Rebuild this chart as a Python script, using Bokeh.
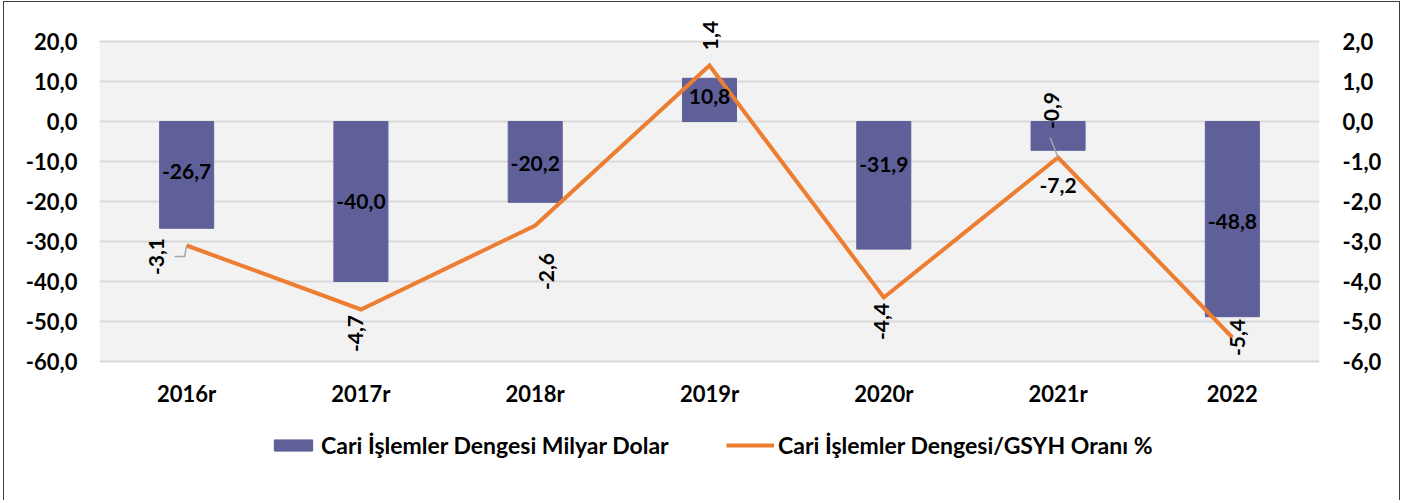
import math
from bokeh.plotting import figure
from bokeh.models import (Range1d, LinearAxis, FixedTicker, CustomJSTickFormatter,
                          Legend, LegendItem, ColumnDataSource, LabelSet)
from bokeh.core.properties import value
from bokeh.embed import file_html
from bokeh.resources import INLINE

# ---------------- data ----------------
categories = ["2016r", "2017r", "2018r", "2019r", "2020r", "2021r", "2022"]
balance_bn_usd = [-26.7, -40.0, -20.2, 10.8, -31.9, -7.2, -48.8]
balance_gdp_pct = [-3.1, -4.7, -2.6, 1.4, -4.4, -0.9, -5.4]
left_ticks = [-60, -50, -40, -30, -20, -10, 0, 10, 20]
right_ticks = [-6, -5, -4, -3, -2, -1, 0, 1, 2]
bar_series_name = "Cari İşlemler Dengesi Milyar Dolar"
line_series_name = "Cari İşlemler Dengesi/GSYH Oranı %"

# ---------------- style ----------------
FONT = "Lato"
BAR_COLOR = "#5F5F99"
LINE_COLOR = "#ED7D31"
GRID_COLOR = "#D9D9D9"
BG = "#F2F2F2"

# label offsets in pixels (dx right, dy up) - label placement only
bar_lbl_dy = [3, 0, -2, 3, 21, -50, -2]
line_lbl_dx = [-30, -5, 11, 1, -2, -7, 5]
line_lbl_dy = [-11, -24, -46, 30, -24, 47, 0]

# ---------------- layout (page pixels) ----------------
CANVAS_X0, CANVAS_Y0 = 5, 3          # canvas origin on the page
W, H = 1397, 499
PLOT_L, PLOT_R = 100, 1320           # plot-area edges on the page
PLOT_T, PLOT_B = 42, 362             # page y of top tick / bottom tick
ML = PLOT_L - CANVAS_X0
FW = PLOT_R - PLOT_L
MR = W - ML - FW

ymin, ymax = left_ticks[0], left_ticks[-1]
rmin, rmax = right_ticks[0], right_ticks[-1]
upx = (PLOT_B - PLOT_T) / (ymax - ymin)      # px per left unit
rpx = (PLOT_B - PLOT_T) / (rmax - rmin)      # px per right unit
frame_top_pg, frame_bot_pg = CANVAS_Y0, CANVAS_Y0 + H
y_top = ymax + (PLOT_T - frame_top_pg) / upx
y_bot = ymin - (frame_bot_pg - PLOT_B) / upx
r_top = rmax + (PLOT_T - frame_top_pg) / rpx
r_bot = rmin - (frame_bot_pg - PLOT_B) / rpx

n = len(categories)
xs = [i + 0.5 for i in range(n)]
pxx = FW / n

p = figure(width=W, height=H, output_backend="svg", toolbar_location=None,
           x_range=Range1d(0, n), y_range=Range1d(y_bot, y_top),
           min_border_left=ML, min_border_right=MR, min_border_top=0,
           min_border_bottom=0, background_fill_color="white",
           border_fill_color="white", outline_line_color=None)
p.styles = {"margin-left": "3px", "margin-top": "1px",
            "border-left": "1px solid #404040", "border-top": "1px solid #404040",
            "border-right": "1px solid #404040"}
p.extra_y_ranges = {"right": Range1d(r_bot, r_top)}

fmt = CustomJSTickFormatter(code="return tick.toFixed(1).replace('.', ',');")

def style_axis(ax, size):
    ax.axis_line_color = None
    ax.major_tick_line_color = None
    ax.minor_tick_line_color = None
    ax.major_tick_in = 0
    ax.major_tick_out = 0
    ax.minor_tick_in = 0
    ax.minor_tick_out = 0
    ax.major_label_text_font = FONT
    ax.major_label_text_font_style = "bold"
    ax.major_label_text_font_size = size
    ax.major_label_text_color = "black"

p.yaxis.ticker = FixedTicker(ticks=left_ticks)
p.yaxis.formatter = fmt
style_axis(p.yaxis[0], "22px")
p.yaxis.major_label_standoff = 22

rax = LinearAxis(y_range_name="right", ticker=FixedTicker(ticks=right_ticks), formatter=fmt)
style_axis(rax, "22px")
rax.major_label_standoff = 23
p.add_layout(rax, "right")

p.xaxis.visible = False
p.xgrid.grid_line_color = None
p.ygrid.ticker = FixedTicker(ticks=left_ticks)
p.ygrid.grid_line_color = GRID_COLOR
p.ygrid.grid_line_width = 2

# grey plot area
p.quad(left=0, right=n, bottom=ymin, top=ymax, fill_color=BG, line_color=None, level="image")

src = ColumnDataSource(dict(
    x=xs, cat=categories, bar=balance_bn_usd, pct=balance_gdp_pct,
    bar_mid=[v / 2 for v in balance_bn_usd],
    bar_txt=[f"{v:.1f}".replace(".", ",") for v in balance_bn_usd],
    pct_txt=[f"{v:.1f}".replace(".", ",") for v in balance_gdp_pct],
    bar_dy=bar_lbl_dy, ldx=line_lbl_dx, ldy=line_lbl_dy,
    cat_y=[ymin - (402 - PLOT_B) / upx] * n,
))

bars = p.vbar(x="x", top="bar", bottom=0, width=0.31, source=src,
              fill_color=BAR_COLOR, line_color=BAR_COLOR)
line = p.line(x="x", y="pct", source=src, line_color=LINE_COLOR, line_width=4,
              y_range_name="right", line_join="miter")

# leader lines (pixel offsets from the data point)
leaders = {0: [(-12, -11), (-2, -11), (0, 0)], 5: [(-8, 20), (0, 0)]}
lx, ly = [], []
for i, pts in leaders.items():
    lx.append([xs[i] + dx / pxx for dx, dy in pts])
    ly.append([balance_gdp_pct[i] + dy / rpx for dx, dy in pts])
p.multi_line(xs=lx, ys=ly, line_color="#A6A6A6", line_width=1.5, y_range_name="right")

common = dict(text_font=value(FONT), text_font_style="bold", text_color="black")

p.add_layout(LabelSet(x="x", y="bar_mid", text="bar_txt", source=src, y_offset="bar_dy",
                      text_align="center", text_baseline="middle",
                      text_font_size="21px", **common))
p.add_layout(LabelSet(x="x", y="pct", text="pct_txt", source=src, y_range_name="right",
                      x_offset="ldx", y_offset="ldy", angle=math.pi / 2,
                      text_align="center", text_baseline="middle",
                      text_font_size="21px", **common))
# category labels
p.add_layout(LabelSet(x="x", y="cat_y", text="cat", source=src,
                      text_align="center", text_baseline="alphabetic",
                      text_font_size="22px", **common))

leg_common = dict(orientation="horizontal", glyph_width=48, glyph_height=14,
                  label_standoff=4, padding=0, margin=0, border_line_color=None,
                  background_fill_alpha=0, label_text_font=FONT,
                  label_text_font_style="bold", label_text_font_size="23px",
                  label_text_color="black")
LEG_BOTTOM = frame_bot_pg - 460
p.add_layout(Legend(items=[LegendItem(label=bar_series_name, renderers=[bars])],
                    location=(270 - PLOT_L, LEG_BOTTOM), **leg_common), "center")
p.add_layout(Legend(items=[LegendItem(label=line_series_name, renderers=[line])],
                    location=(727 - PLOT_L, LEG_BOTTOM), **leg_common), "center")

open("out.html", "w").write(file_html(p, INLINE))
